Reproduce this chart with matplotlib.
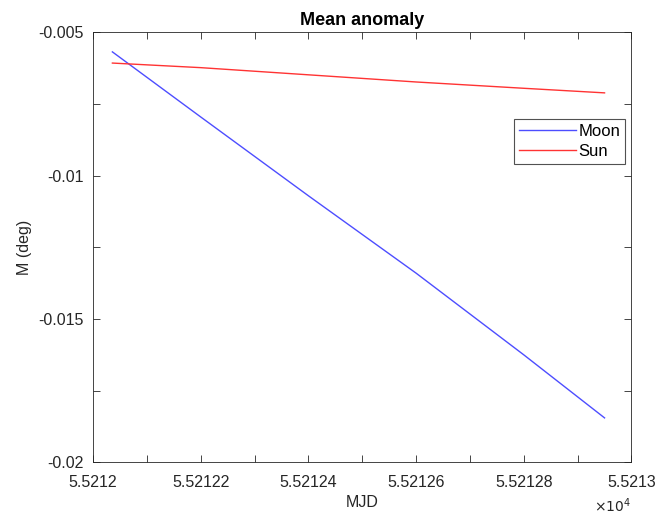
import matplotlib.pyplot as plt
import matplotlib
from matplotlib.ticker import MultipleLocator, FuncFormatter

matplotlib.rcParams['font.family'] = ['Liberation Sans', 'DejaVu Sans']

# MJD samples and mean anomaly values (deg)
mjd = [55212.036, 55212.2, 55212.4, 55212.6, 55212.8, 55212.95]
moon_m = [-0.00568, -0.00795, -0.01070, -0.01340, -0.01625, -0.01845]
sun_m = [-0.00607, -0.00623, -0.00648, -0.00673, -0.00695, -0.00711]

fig = plt.figure(figsize=(6.71, 5.15), dpi=100)
ax = fig.add_axes([0.1386, 0.1023, 0.8025, 0.8348])

ax.plot(mjd, moon_m, color='#4d4dff', linewidth=1.0, label='Moon')
ax.plot(mjd, sun_m, color='#ff3333', linewidth=1.0, label='Sun')

ax.set_xlim(55212, 55213)
ax.set_ylim(-0.02, -0.005)
ax.xaxis.set_major_locator(MultipleLocator(0.2))
ax.xaxis.set_minor_locator(MultipleLocator(0.1))
ax.yaxis.set_major_locator(MultipleLocator(0.005))
ax.yaxis.set_minor_locator(MultipleLocator(0.0025))
ax.xaxis.set_major_formatter(FuncFormatter(lambda v, p: '%g' % round(v / 1e4, 6)))
ax.yaxis.set_major_formatter(FuncFormatter(lambda v, p: '%g' % round(v, 6)))

ax.tick_params(which='both', direction='in', top=True, right=True,
               colors='#262626', labelsize=11.5, width=0.6, length=5)
ax.tick_params(axis='x', pad=9)
ax.tick_params(axis='y', pad=7)
for s in ax.spines.values():
    s.set_color('#262626')
    s.set_linewidth(0.6)

ax.set_title('Mean anomaly', fontsize=13, fontweight='bold', pad=5)
ax.set_xlabel('MJD', fontsize=11.5, color='#262626', labelpad=4)
ax.set_ylabel('M (deg)', fontsize=11.5, color='#262626', labelpad=4)
ax.text(0.965, -0.1, r'$\times10^{4}$', transform=ax.transAxes, fontsize=10,
        color='#262626', ha='center', va='center')

leg = ax.legend(loc='upper right', bbox_to_anchor=(0.988, 0.7986), fontsize=12,
                frameon=True, fancybox=False, borderpad=0.3, handlelength=3.4,
                handletextpad=0.15, labelspacing=0.3, borderaxespad=0)
leg.get_frame().set_edgecolor('#262626')
leg.get_frame().set_linewidth(0.8)

fig.savefig('out.png', dpi=100)
